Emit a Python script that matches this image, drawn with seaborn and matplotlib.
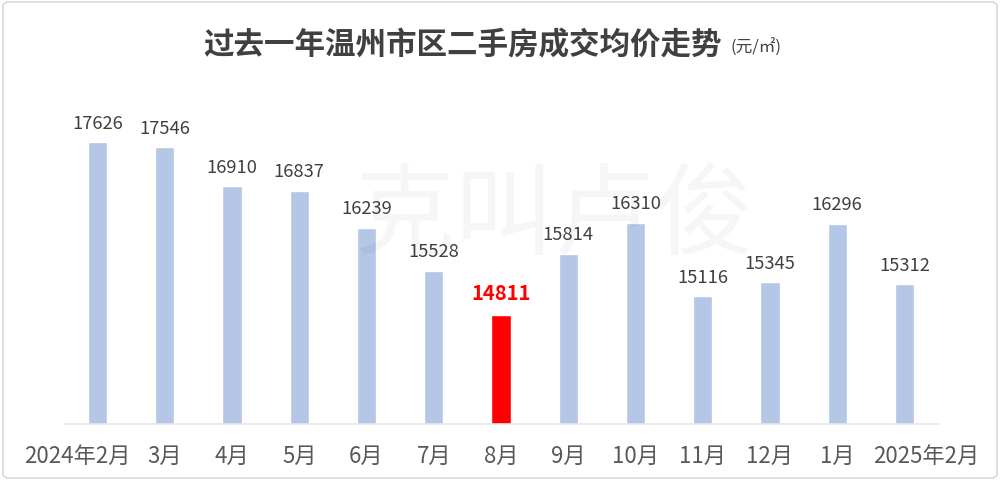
import matplotlib
matplotlib.use("Agg")
import matplotlib.pyplot as plt
import matplotlib.transforms as mtransforms
import seaborn as sns
import pandas as pd
from matplotlib.patches import FancyBboxPatch

months = ["2024年2月", "3月", "4月", "5月", "6月", "7月", "8月", "9月",
          "10月", "11月", "12月", "1月", "2025年2月"]
prices = [17626, 17546, 16910, 16837, 16239, 15528, 14811, 15814,
          16310, 15116, 15345, 16296, 15312]
highlight = "8月"

sns.set_theme(style="white")
plt.rcParams['font.family'] = ['Noto Sans CJK SC', 'DejaVu Sans']

df = pd.DataFrame({"month": months, "price": prices})
colors = ["#FF0000" if m == highlight else "#B4C7E7" for m in months]

fig = plt.figure(figsize=(10, 4.8), dpi=100)
ax = fig.add_axes([0.064, 0.1167, 0.874, 0.673])

sns.barplot(data=df, x="month", y="price", hue="month", palette=colors,
            legend=False, width=0.285, ax=ax, saturation=1)

ax.set_ylim(13040, 18300)
ax.set_xlim(-0.5, len(months) - 0.5)
for s in ["top", "right", "left"]:
    ax.spines[s].set_visible(False)
ax.spines["bottom"].set_color("#E6E6E6")
ax.spines["bottom"].set_linewidth(1.2)
ax.set_yticks([])
ax.set_xlabel("")
ax.set_ylabel("")
ax.tick_params(axis="x", length=0, pad=15, labelsize=16, labelcolor="#595959")

# shift the two long edge labels outward, as in the reference
labels = ax.get_xticklabels()
shift_l = mtransforms.ScaledTranslation(-20 / 100, 0, fig.dpi_scale_trans)
shift_r = mtransforms.ScaledTranslation(22 / 100, 0, fig.dpi_scale_trans)
labels[0].set_transform(labels[0].get_transform() + shift_l)
labels[-1].set_transform(labels[-1].get_transform() + shift_r)

for i, (m, v) in enumerate(zip(months, prices)):
    if m == highlight:
        ax.annotate(f"{v}", (i, v), xytext=(0, 8), textcoords="offset points",
                    ha="center", va="bottom", fontsize=14.5, fontweight="bold",
                    color="#FF0000")
    else:
        ax.annotate(f"{v}", (i, v), xytext=(0, 7), textcoords="offset points",
                    ha="center", va="bottom", fontsize=13.2, color="#404040")

# watermark
fig.text(0.555, 0.545, "克叫卢俊", ha="center", va="center", fontsize=72,
         color="#000000", alpha=0.035)

fig.text(0.722, 0.905, "过去一年温州市区二手房成交均价走势", ha="right", va="center",
         fontsize=22, fontweight="bold", color="#404040")
fig.text(0.731, 0.9, "(元/㎡)", ha="left", va="center", fontsize=12,
         color="#404040")

border = FancyBboxPatch((0.003, 0.004), 0.994, 0.992,
                        boxstyle="round,pad=0,rounding_size=0.008",
                        transform=fig.transFigure, fill=False,
                        edgecolor="#D9D9D9", linewidth=1.2)
fig.patches.append(border)

fig.savefig("out.png", dpi=100, facecolor="white")
